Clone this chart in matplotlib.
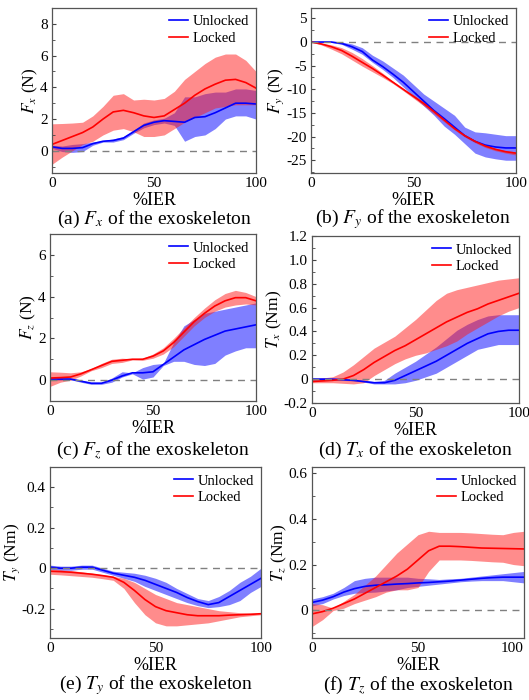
import numpy as np
import matplotlib
matplotlib.use("Agg")
import matplotlib.pyplot as plt
from matplotlib.ticker import MultipleLocator, FuncFormatter

plt.rcParams['font.family'] = ['Liberation Serif', 'DejaVu Serif']
plt.rcParams['mathtext.fontset'] = 'stix'
plt.rcParams['axes.unicode_minus'] = False

x = [0, 5, 10, 15, 20, 25, 30, 35, 40, 45, 50, 55, 60, 65, 70, 75, 80, 85, 90, 95, 100]

# (a) Fx
a_lock_mean = [0.4, 0.65, 0.9, 1.15, 1.5, 2.0, 2.45, 2.55, 2.4, 2.2, 2.1, 2.2, 2.6, 3.0, 3.5, 3.9, 4.2, 4.45, 4.5, 4.3, 3.95]
a_lock_hi = [1.7, 1.72, 1.75, 1.8, 2.2, 2.8, 3.5, 3.6, 3.2, 3.25, 3.2, 3.3, 3.75, 4.5, 5.0, 5.5, 5.9, 6.1, 6.1, 5.7, 5.0]
a_lock_lo = [-0.85, -0.4, 0.0, 0.4, 0.6, 1.0, 1.3, 1.4, 1.2, 0.9, 0.9, 1.0, 1.4, 1.8, 2.1, 2.4, 2.7, 2.8, 2.9, 2.9, 2.9]
a_unl_mean = [0.25, 0.15, 0.15, 0.2, 0.45, 0.6, 0.65, 0.8, 1.2, 1.6, 1.8, 1.9, 1.85, 1.8, 2.1, 2.15, 2.4, 2.7, 3.0, 3.0, 2.95]
a_unl_hi = [0.35, 0.3, 0.4, 0.45, 0.55, 0.65, 0.75, 0.9, 1.3, 1.75, 1.95, 2.05, 2.4, 3.4, 3.4, 3.6, 3.7, 3.7, 3.9, 3.9, 3.8]
a_unl_lo = [0.15, -0.05, -0.1, -0.05, 0.35, 0.55, 0.55, 0.7, 1.1, 1.45, 1.65, 1.75, 1.6, 0.6, 0.9, 1.0, 1.4, 2.0, 2.2, 2.2, 2.0]

# (b) Fy
b_lock_mean = [0, -0.4, -1.0, -1.8, -3.0, -4.3, -5.6, -7.0, -8.5, -10.0, -11.5, -13.0, -14.7, -16.5, -18.3, -19.8, -21.0, -22.0, -22.7, -23.2, -23.5]
b_lock_hi = [0, -0.2, -0.6, -1.2, -2.2, -3.5, -5.0, -6.6, -8.3, -9.8, -11.2, -12.6, -14.3, -16.2, -18.0, -19.6, -20.8, -21.8, -22.5, -23.0, -23.2]
b_lock_lo = [0, -0.6, -1.5, -2.5, -3.8, -5.1, -6.3, -7.5, -8.8, -10.3, -11.9, -13.5, -15.2, -16.9, -18.6, -20.1, -21.3, -22.3, -23.0, -23.5, -23.9]
b_unl_mean = [0, 0, 0, -0.3, -1.0, -2.0, -3.8, -5.2, -6.8, -8.5, -10.5, -12.5, -14.5, -16.2, -18.0, -19.8, -21.0, -21.8, -22.2, -22.4, -22.4]
b_unl_hi = [0, 0, 0, 0, -0.4, -1.2, -2.8, -4.0, -5.5, -7.0, -9.0, -11.0, -12.5, -14.0, -15.5, -18.0, -19.0, -19.2, -19.5, -19.8, -19.8]
b_unl_lo = [0, 0, -0.1, -0.5, -1.5, -2.6, -4.3, -5.8, -7.5, -9.5, -11.5, -13.5, -15.5, -17.8, -19.5, -21.5, -23.5, -24.3, -24.7, -25.0, -25.0]

# (c) Fz
c_lock_mean = [0.1, 0.12, 0.15, 0.3, 0.5, 0.7, 0.9, 0.95, 1.0, 1.0, 1.15, 1.4, 1.8, 2.3, 2.8, 3.2, 3.55, 3.8, 3.95, 3.95, 3.8]
c_lock_hi = [0.4, 0.38, 0.35, 0.4, 0.55, 0.8, 1.0, 1.05, 1.02, 1.05, 1.25, 1.55, 2.0, 2.5, 3.0, 3.45, 3.85, 4.15, 4.3, 4.2, 4.0]
c_lock_lo = [-0.3, -0.1, 0.0, 0.2, 0.45, 0.6, 0.8, 0.85, 0.97, 0.95, 1.05, 1.25, 1.6, 2.1, 2.6, 3.0, 3.3, 3.5, 3.6, 3.65, 3.6]
c_unl_mean = [0.05, 0.05, 0.05, -0.05, -0.15, -0.15, 0.0, 0.2, 0.35, 0.35, 0.4, 0.75, 1.1, 1.45, 1.7, 1.95, 2.15, 2.35, 2.45, 2.55, 2.65]
c_unl_hi = [0.1, 0.1, 0.08, 0.0, -0.1, -0.1, 0.1, 0.4, 0.35, 0.6, 0.75, 0.8, 1.8, 2.6, 2.9, 3.2, 3.3, 3.4, 3.5, 3.6, 3.7]
c_unl_lo = [0.0, 0.0, 0.02, -0.1, -0.2, -0.2, -0.1, 0.15, 0.3, 0.05, 0.15, 0.7, 0.9, 0.9, 0.75, 0.7, 0.8, 1.2, 1.4, 1.55, 1.55]

# (d) Tx
d_lock_mean = [-0.02, -0.015, -0.01, 0.0, 0.03, 0.08, 0.14, 0.19, 0.24, 0.28, 0.33, 0.38, 0.43, 0.48, 0.52, 0.56, 0.59, 0.63, 0.66, 0.69, 0.72]
d_lock_hi = [0.0, 0.01, 0.02, 0.06, 0.12, 0.19, 0.26, 0.31, 0.36, 0.43, 0.5, 0.58, 0.66, 0.72, 0.75, 0.77, 0.79, 0.81, 0.83, 0.84, 0.85]
d_lock_lo = [-0.03, -0.03, -0.03, -0.035, -0.04, -0.03, 0.03, 0.08, 0.13, 0.17, 0.2, 0.22, 0.25, 0.28, 0.32, 0.38, 0.43, 0.48, 0.53, 0.57, 0.6]
d_unl_mean = [0.0, 0.0, 0.0, -0.005, -0.01, -0.02, -0.03, -0.03, -0.01, 0.03, 0.07, 0.11, 0.15, 0.2, 0.25, 0.3, 0.34, 0.38, 0.4, 0.41, 0.41]
d_unl_hi = [0.01, 0.01, 0.005, 0.0, -0.005, -0.01, -0.02, -0.01, 0.05, 0.1, 0.15, 0.21, 0.27, 0.34, 0.41, 0.46, 0.5, 0.53, 0.54, 0.54, 0.54]
d_unl_lo = [-0.01, -0.01, -0.01, -0.01, -0.015, -0.025, -0.04, -0.04, -0.04, -0.03, -0.01, 0.02, 0.05, 0.1, 0.15, 0.2, 0.25, 0.27, 0.29, 0.29, 0.29]

# (e) Ty
e_lock_mean = [-0.015, -0.017, -0.02, -0.025, -0.03, -0.037, -0.045, -0.07, -0.11, -0.155, -0.19, -0.21, -0.22, -0.23, -0.235, -0.235, -0.235, -0.232, -0.23, -0.228, -0.225]
e_lock_hi = [-0.005, -0.008, -0.012, -0.018, -0.025, -0.032, -0.04, -0.05, -0.07, -0.1, -0.13, -0.15, -0.17, -0.18, -0.19, -0.2, -0.21, -0.215, -0.22, -0.222, -0.222]
e_lock_lo = [-0.03, -0.033, -0.037, -0.041, -0.045, -0.052, -0.06, -0.1, -0.17, -0.23, -0.27, -0.285, -0.285, -0.28, -0.275, -0.27, -0.26, -0.25, -0.24, -0.235, -0.23]
e_unl_mean = [0.005, 0.0, 0.0, 0.005, 0.005, -0.01, -0.025, -0.035, -0.045, -0.06, -0.08, -0.1, -0.12, -0.145, -0.165, -0.18, -0.17, -0.14, -0.11, -0.08, -0.05]
e_unl_hi = [0.015, 0.01, 0.01, 0.015, 0.015, 0.0, -0.015, -0.02, -0.025, -0.035, -0.05, -0.07, -0.1, -0.125, -0.15, -0.16, -0.14, -0.11, -0.07, -0.04, 0.0]
e_unl_lo = [-0.005, -0.01, -0.01, -0.005, -0.005, -0.02, -0.035, -0.05, -0.065, -0.09, -0.11, -0.13, -0.15, -0.17, -0.185, -0.195, -0.19, -0.18, -0.16, -0.12, -0.09]

# (f) Tz
f_lock_mean = [-0.015, -0.005, 0.01, 0.03, 0.05, 0.075, 0.1, 0.125, 0.15, 0.18, 0.22, 0.26, 0.28, 0.28, 0.278, 0.275, 0.272, 0.271, 0.27, 0.269, 0.268]
f_lock_hi = [0.03, 0.025, 0.01, 0.04, 0.07, 0.11, 0.15, 0.2, 0.25, 0.29, 0.33, 0.345, 0.34, 0.34, 0.34, 0.338, 0.335, 0.332, 0.33, 0.34, 0.345]
f_lock_lo = [-0.07, -0.04, 0.0, 0.01, 0.03, 0.045, 0.06, 0.08, 0.09, 0.09, 0.1, 0.17, 0.22, 0.22, 0.22, 0.218, 0.215, 0.212, 0.21, 0.2, 0.195]
f_unl_mean = [0.035, 0.045, 0.06, 0.08, 0.095, 0.105, 0.11, 0.112, 0.115, 0.117, 0.12, 0.122, 0.125, 0.128, 0.132, 0.136, 0.14, 0.143, 0.145, 0.145, 0.145]
f_unl_hi = [0.05, 0.06, 0.075, 0.1, 0.13, 0.14, 0.145, 0.145, 0.145, 0.145, 0.14, 0.138, 0.135, 0.138, 0.14, 0.145, 0.15, 0.155, 0.16, 0.165, 0.17]
f_unl_lo = [0.02, 0.03, 0.05, 0.065, 0.075, 0.078, 0.08, 0.085, 0.09, 0.1, 0.105, 0.11, 0.115, 0.12, 0.125, 0.128, 0.13, 0.13, 0.13, 0.125, 0.12]

W, H = 529, 700
fig = plt.figure(figsize=(W / 100, H / 100), dpi=100)


def fmt(v, pos):
    if abs(v) < 1e-9:
        return '0'
    if abs(v - round(v)) < 1e-9 and abs(v) > 1.5:
        return '%d' % round(v)
    return '%.1f' % v


def panel(box, unl, lock, ylab, ylim, major, minor, cap, cap_y):
    l, r, t, b = box
    ax = fig.add_axes([l / W, 1 - b / H, (r - l) / W, (b - t) / H])
    ax.fill_between(x, unl[2], unl[1], color='#0000ff', alpha=0.5, lw=0)
    ax.fill_between(x, lock[2], lock[1], color='#ff1a1a', alpha=0.5, lw=0)
    ax.plot(x, unl[0], color='#0000ff', lw=1.2, label='Unlocked')
    ax.plot(x, lock[0], color='#ff0000', lw=1.2, label='Locked')
    ax.axhline(0, color='#808080', ls=(0, (5, 4)), lw=1.0)
    ax.set_xlim(0, 100)
    ax.set_ylim(*ylim)
    ax.set_xticks([0, 50, 100])
    ax.yaxis.set_major_locator(MultipleLocator(major))
    ax.yaxis.set_minor_locator(MultipleLocator(minor))
    ax.yaxis.set_major_formatter(FuncFormatter(fmt))
    ax.tick_params(axis='y', which='major', direction='in', length=3, labelsize=11,
                   colors='#444444', labelcolor='black', pad=3)
    ax.tick_params(axis='y', which='minor', direction='in', length=2, colors='#444444')
    ax.tick_params(axis='x', length=0, labelsize=11, pad=3)
    for s in ax.spines.values():
        s.set_color('#555555')
        s.set_linewidth(0.9)
    ax.set_ylabel(ylab, fontsize=12.5, labelpad=0)
    ax.set_xlabel('%IER', fontsize=13, labelpad=1)
    ax.legend(loc='upper right', frameon=False, fontsize=10.5, handlelength=1.3,
              handletextpad=0.3, labelspacing=0.25, borderaxespad=0.1)
    fig.text((l + r) / 2 / W, 1 - cap_y / H, cap, ha='center', va='center', fontsize=14)
    return ax


panel((52, 256, 8, 173), (a_unl_mean, a_unl_hi, a_unl_lo), (a_lock_mean, a_lock_hi, a_lock_lo),
      '$F_x$ (N)', (-1.4, 9.0), 2, 1, '(a) $F_x$ of the exoskeleton', 219)
panel((311, 516, 8, 173), (b_unl_mean, b_unl_hi, b_unl_lo), (b_lock_mean, b_lock_hi, b_lock_lo),
      '$F_y$ (N)', (-27.7, 7.2), 5, 2.5, '(b) $F_y$ of the exoskeleton', 219)
panel((50, 256, 234, 401), (c_unl_mean, c_unl_hi, c_unl_lo), (c_lock_mean, c_lock_hi, c_lock_lo),
      '$F_z$ (N)', (-1.0, 7.0), 2, 1, '(c) $F_z$ of the exoskeleton', 450)
panel((312, 519, 236, 403), (d_unl_mean, d_unl_hi, d_unl_lo), (d_lock_mean, d_lock_hi, d_lock_lo),
      '$T_x$ (Nm)', (-0.2, 1.2), 0.2, 0.1, '(d) $T_x$ of the exoskeleton', 450)
panel((50, 261, 467, 638), (e_unl_mean, e_unl_hi, e_unl_lo), (e_lock_mean, e_lock_hi, e_lock_lo),
      '$T_y$ (Nm)', (-0.345, 0.5), 0.2, 0.1, '(e) $T_y$ of the exoskeleton', 685)
axf = panel((312, 524, 467, 638), (f_unl_mean, f_unl_hi, f_unl_lo), (f_lock_mean, f_lock_hi, f_lock_lo),
            '$T_z$ (Nm)', (-0.12, 0.625), 0.2, 0.1, '(f) $T_z$ of the exoskeleton', 685)
axf.get_xticklabels()[-1].set_horizontalalignment('right')

fig.savefig('out.png', dpi=100)
